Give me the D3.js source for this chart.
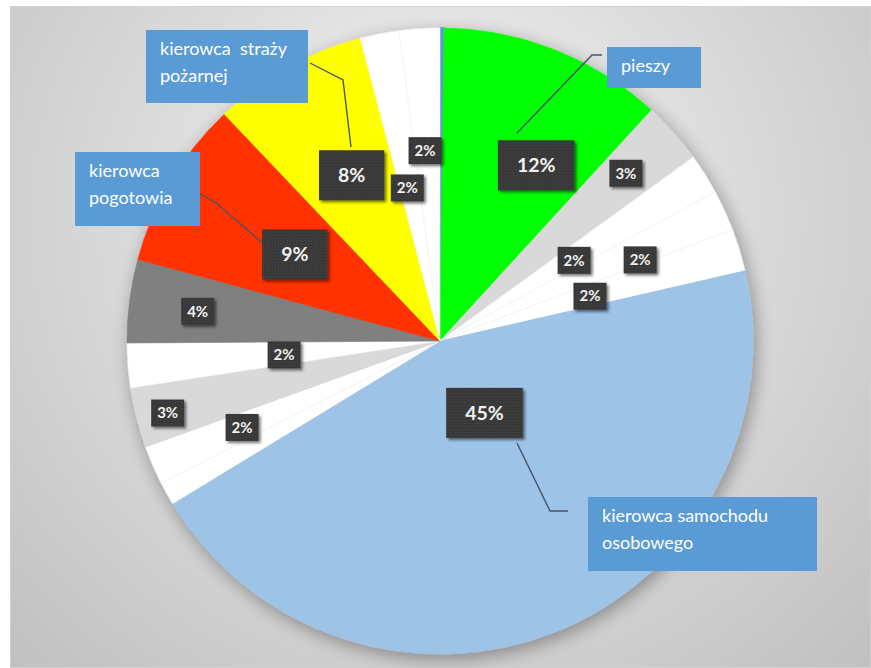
<!DOCTYPE html>
<html>
<head>
<meta charset="utf-8">
<script src="https://cdn.jsdelivr.net/npm/d3@7"></script>
<style>
  html, body { margin: 0; padding: 0; background: #ffffff; }
  svg { display: block; }
  text { font-family: Lato, "Open Sans", sans-serif; }
</style>
</head>
<body>
<svg id="chart" width="871" height="668"></svg>
<script>
// Slices, clockwise from 12 o'clock
const categories = [null, "pieszy", null, null, null, null, "kierowca samochodu osobowego",
  null, null, null, null, null, "kierowca pogotowia", "kierowca straży pożarnej", null, null];
const values = [0.2, 11.6, 3.2, 2.1, 2.1, 2.2, 44.9, 1.2, 2.0, 3.1, 2.3, 4.3, 8.7, 8.0, 2.0, 2.1];
const showPct = [false, true, true, true, true, true, true, false, true, true, true, true, true, true, true, true];

// Fill colours per slice
const palette = ["#5b9bd5", "#00ff00", "#d9d9d9", "#ffffff", "#ffffff", "#ffffff", "#9dc3e6",
  "#ffffff", "#ffffff", "#d9d9d9", "#ffffff", "#808080", "#ff3300", "#ffff00", "#ffffff", "#ffffff"];

// Label placement: radius (fraction of pie radius) and angle nudge (degrees) from slice middle
const labelRadius = [0, 0.64, 0.80, 0.50, 0.69, 0.50, 0.27, 0, 0.69, 0.90, 0.50, 0.78, 0.54, 0.60, 0.50, 0.61];
const labelNudge  = [0, 7.1, -0.3, 1.2, 2.6, 0.3, -9.6, 0, -0.2, -0.6, -0.6, -0.4, 0, 1.1, -0.9, -0.7];
const bigLabel    = [false, true, false, false, false, false, true, false, false, false, false, false, true, true, false, false];

// Category callouts: box, text wrap and leader path
const callouts = {
  1:  { box: [607, 47, 94, 41], lines: ["pieszy"], leader: [[517, 133], [592, 55], [602, 55]] },
  6:  { box: [588, 497, 229, 74], lines: ["kierowca samochodu", "osobowego"], leader: [[517, 443], [550, 511], [568, 511]] },
  12: { box: [75, 152, 125, 74], lines: ["kierowca", "pogotowia"], leader: [[200, 194], [215, 202], [266, 246]] },
  13: { box: [146, 30, 162, 73], lines: ["kierowca  straży", "pożarnej"], leader: [[310, 63], [343, 80], [351, 147]] }
};

const W = 871, H = 668;
const cx = 440, cy = 341, R = 313;

const svg = d3.select("#chart");
const defs = svg.append("defs");

// Background radial wash
const bg = defs.append("radialGradient").attr("id", "bgGrad")
  .attr("gradientUnits", "userSpaceOnUse")
  .attr("cx", 440).attr("cy", 220).attr("r", 620);
bg.append("stop").attr("offset", 0).attr("stop-color", "#fafafa");
bg.append("stop").attr("offset", 0.42).attr("stop-color", "#dedede");
bg.append("stop").attr("offset", 1).attr("stop-color", "#c0c0c0");

// Soft shadow beneath the pie
const pieShadow = defs.append("filter").attr("id", "pieShadow")
  .attr("x", "-20%").attr("y", "-20%").attr("width", "140%").attr("height", "140%");
pieShadow.append("feGaussianBlur").attr("in", "SourceAlpha").attr("stdDeviation", 9).attr("result", "b");
pieShadow.append("feOffset").attr("in", "b").attr("dx", 3).attr("dy", 5).attr("result", "o");
pieShadow.append("feComponentTransfer").attr("in", "o").attr("result", "s")
  .append("feFuncA").attr("type", "linear").attr("slope", 0.35);
const pm = pieShadow.append("feMerge");
pm.append("feMergeNode").attr("in", "s");
pm.append("feMergeNode").attr("in", "SourceGraphic");

// Shadow for the value boxes
const boxShadow = defs.append("filter").attr("id", "boxShadow")
  .attr("x", "-30%").attr("y", "-30%").attr("width", "170%").attr("height", "170%");
boxShadow.append("feGaussianBlur").attr("in", "SourceAlpha").attr("stdDeviation", 1.6).attr("result", "b");
boxShadow.append("feOffset").attr("in", "b").attr("dx", 2).attr("dy", 2).attr("result", "o");
boxShadow.append("feComponentTransfer").attr("in", "o").attr("result", "s")
  .append("feFuncA").attr("type", "linear").attr("slope", 0.55);
const bm = boxShadow.append("feMerge");
bm.append("feMergeNode").attr("in", "s");
bm.append("feMergeNode").attr("in", "SourceGraphic");

// Dotted texture for the value boxes
const dots = defs.append("pattern").attr("id", "dots")
  .attr("patternUnits", "userSpaceOnUse").attr("width", 3).attr("height", 3);
dots.append("rect").attr("width", 3).attr("height", 3).attr("fill", "#383838");
dots.append("rect").attr("x", 1).attr("y", 1).attr("width", 1).attr("height", 1).attr("fill", "#4a4a4a");

// Frame
svg.append("rect").attr("x", 10).attr("y", 6).attr("width", W - 10).attr("height", H - 6)
  .attr("fill", "url(#bgGrad)");
svg.append("rect").attr("x", 10.5).attr("y", 6.5).attr("width", W - 11).attr("height", H - 7)
  .attr("fill", "none").attr("stroke", "#d0d0d0").attr("stroke-width", 1);

const total = d3.sum(values);
const pie = d3.pie().sort(null).value(d => d)(values);
const arc = d3.arc().innerRadius(0).outerRadius(R);

const g = svg.append("g").attr("transform", `translate(${cx},${cy})`);

const pieG = g.append("g").attr("filter", "url(#pieShadow)");
pieG.selectAll("path.slice")
  .data(pie)
  .join("path")
  .attr("class", "slice")
  .attr("d", arc)
  .attr("fill", (d, i) => palette[i])
  .attr("stroke", (d, i) => palette[i] === "#ffffff" ? "#f3f3f3" : palette[i])
  .attr("stroke-width", (d, i) => i === 0 ? 1.5 : 0.6);

// Leader lines
const line = d3.line();
Object.values(callouts).forEach(c => {
  svg.append("path")
    .attr("d", line(c.leader))
    .attr("fill", "none")
    .attr("stroke", "#44546a")
    .attr("stroke-width", 1.4);
});

// Category callouts
Object.entries(callouts).forEach(([k, c]) => {
  const [x, y, w, h] = c.box;
  svg.append("rect").attr("x", x).attr("y", y).attr("width", w).attr("height", h).attr("fill", "#5b9bd5");
  const t = svg.append("text")
    .attr("x", x + 14).attr("y", y + 25)
    .attr("fill", "#ffffff").attr("font-size", 18)
    .style("white-space", "pre");
  c.lines.forEach((ln, j) => {
    t.append("tspan").attr("x", x + 14).attr("dy", j === 0 ? 0 : 26.5).text(ln);
  });
});

// Value labels
const pctFmt = v => Math.round(v / total * 100) + "%";
pie.forEach((d, i) => {
  if (!showPct[i]) return;
  const mid = (d.startAngle + d.endAngle) / 2 + labelNudge[i] * Math.PI / 180;
  const r = labelRadius[i] * R;
  const x = cx + r * Math.sin(mid);
  const y = cy - r * Math.cos(mid);
  const big = bigLabel[i];
  const txt = pctFmt(d.value);
  const fs = big ? 19.5 : 15;
  const lg = svg.append("g").attr("transform", `translate(${x},${y})`);
  const t = lg.append("text")
    .attr("text-anchor", "middle")
    .attr("dy", "0.35em")
    .attr("fill", "#f2f2f2")
    .attr("font-size", fs)
    .attr("font-weight", "bold")
    .text(txt);
  const tw = t.node().getComputedTextLength();
  const padX = big ? 19 : 6;
  const bh = big ? 50 : 27;
  lg.insert("rect", "text")
    .attr("x", -tw / 2 - padX).attr("y", -bh / 2)
    .attr("width", tw + 2 * padX).attr("height", bh)
    .attr("fill", "url(#dots)")
    .attr("filter", "url(#boxShadow)");
});
</script>
</body>
</html>
